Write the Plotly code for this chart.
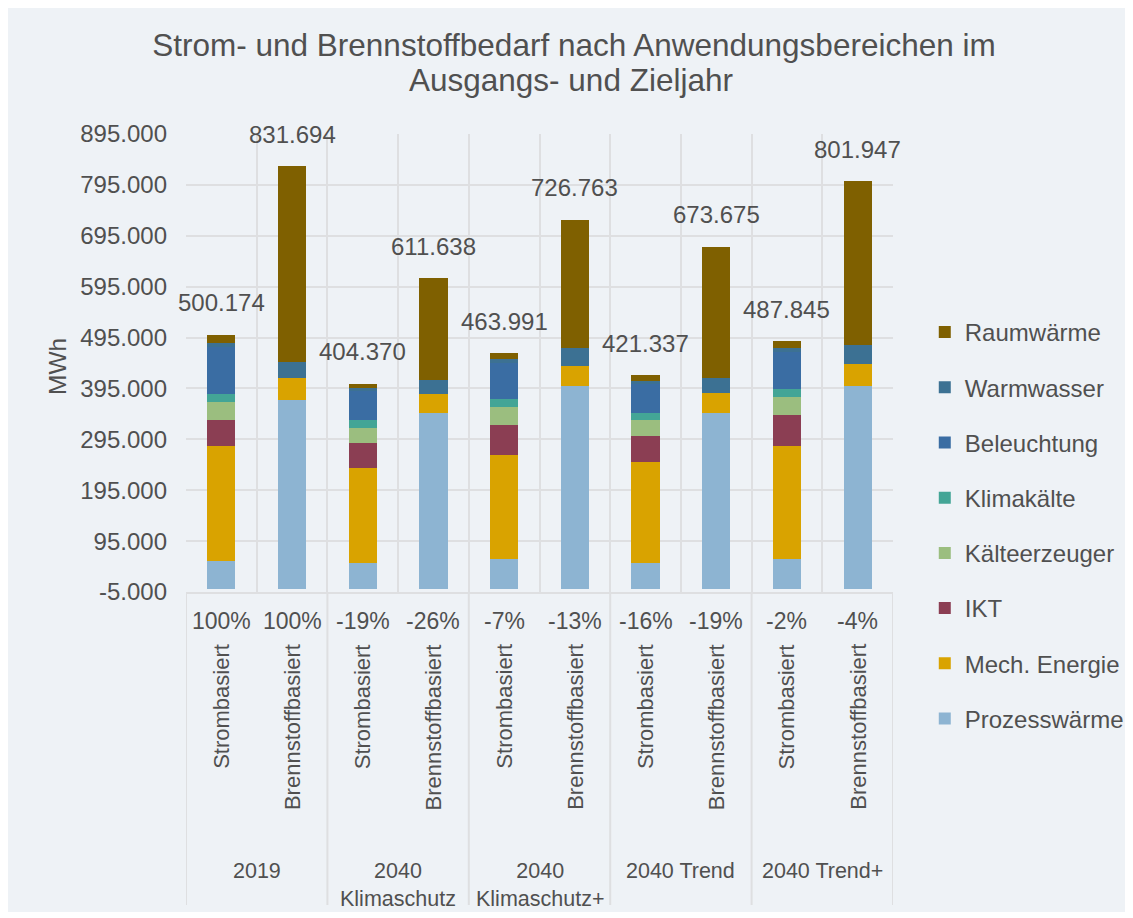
import plotly.graph_objects as go

# ---------------- data ----------------
title_lines = ["Strom- und Brennstoffbedarf nach Anwendungsbereichen im", "Ausgangs- und Zieljahr"]
scenarios = ["2019", "2040<br>Klimaschutz", "2040<br>Klimaschutz+", "2040 Trend", "2040 Trend+"]
types = ["Strombasiert", "Brennstoffbasiert"]
bar_ids = [f"{s}|{t}" for s in scenarios for t in types]

pct_labels = ["100%", "100%", "-19%", "-26%", "-7%", "-13%", "-16%", "-19%", "-2%", "-4%"]
totals = [500174, 831694, 404370, 611638, 463991, 726763, 421337, 673675, 487845, 801947]
total_labels = ["500.174", "831.694", "404.370", "611.638", "463.991",
                "726.763", "421.337", "673.675", "487.845", "801.947"]

prozesswaerme = [55200, 371400, 51300, 347400, 59100, 399600, 51300, 347400, 59100, 399600]
mech_energie = [227600, 43900, 186500, 35800, 204700, 39700, 198200, 37700, 223100, 43100]
ikt = [50200, 0, 50300, 0, 60100, 0, 51500, 0, 59900, 0]
kaelteerzeuger = [35900, 0, 29900, 0, 35200, 0, 31300, 0, 36600, 0]
klimakaelte = [15600, 0, 14300, 0, 14300, 0, 14500, 0, 15000, 0]
beleuchtung = [92600, 0, 57500, 0, 71200, 0, 56700, 0, 73000, 0]
warmwasser = [6600, 31900, 6500, 28100, 8400, 34700, 5900, 31300, 7300, 38300]
raumwaerme = [16474, 384494, 8070, 200338, 10991, 252763, 11937, 257275, 13845, 320947]

series = [
    ("Prozesswärme", prozesswaerme, "#8DB4D2"),
    ("Mech. Energie", mech_energie, "#D9A300"),
    ("IKT", ikt, "#8B3E53"),
    ("Kälteerzeuger", kaelteerzeuger, "#9BBE7F"),
    ("Klimakälte", klimakaelte, "#43A596"),
    ("Beleuchtung", beleuchtung, "#3A6DA3"),
    ("Warmwasser", warmwasser, "#3C7193"),
    ("Raumwärme", raumwaerme, "#7F6000"),
]

y_tick_vals = [-5000, 95000, 195000, 295000, 395000, 495000, 595000, 695000, 795000, 895000]
y_tick_text = ["-5.000", "95.000", "195.000", "295.000", "395.000",
               "495.000", "595.000", "695.000", "795.000", "895.000"]

# ---------------- style ----------------
FONT = "Liberation Sans, Arial, sans-serif"
TXT = "#505050"
BG = "#EEF2F6"
GRID = "#DEDFE1"
W, H = 1133, 918
OFF = 8  # page body margin offset
PW, PH = 712, 458
ML = 186 - OFF
MT = 134 - OFF
MR = W - ML - PW
MB = H - MT - PH


def py(ref_px):  # reference-screenshot pixel y -> paper y
    return (MT + PH - (ref_px - OFF)) / PH


def pxx(ref_px):  # reference-screenshot pixel x -> paper x
    return ((ref_px - OFF) - ML) / PW


fig = go.Figure()
n = len(series)
for k, (name, vals, col) in enumerate(series):
    fig.add_trace(go.Bar(
        x=bar_ids, y=vals, name=name, legendgroup=name, legendrank=n - k,
        marker=dict(color=col, line=dict(width=0)),
        hoverinfo="name+y",
    ))

annotations = []
# second title line
annotations.append(dict(x=pxx(574), y=py(80), xref="paper", yref="paper",
                        text=title_lines[1], showarrow=False,
                        xanchor="center", yanchor="middle",
                        font=dict(size=31.5, color=TXT, family=FONT)))
# totals above bars
for bid, tot, lab in zip(bar_ids, totals, total_labels):
    annotations.append(dict(x=bid, y=tot, xref="x", yref="y", text=lab,
                            showarrow=False, yanchor="middle", yshift=32,
                            font=dict(size=24, color=TXT, family=FONT)))
# percentage row
for bid, p in zip(bar_ids, pct_labels):
    annotations.append(dict(x=bid, y=py(621), xref="x", yref="paper", text=p,
                            showarrow=False, yanchor="middle",
                            font=dict(size=23, color=TXT, family=FONT)))
# type row (rotated)
for i, bid in enumerate(bar_ids):
    annotations.append(dict(x=bid, y=py(642), xref="x", yref="paper",
                            text=types[i % 2], textangle=-90,
                            showarrow=False, yanchor="top",
                            font=dict(size=22, color=TXT, family=FONT)))
# scenario row
for i, s in enumerate(scenarios):
    annotations.append(dict(x=2 * i + 0.5, y=py(857), xref="x", yref="paper",
                            text=s, showarrow=False, yanchor="top",
                            font=dict(size=21.5, color=TXT, family=FONT)))
# y-axis title
annotations.append(dict(x=pxx(56), y=py(366), xref="paper", yref="paper",
                        text="MWh", textangle=-90, showarrow=False,
                        xanchor="center", yanchor="middle",
                        font=dict(size=24.5, color=TXT, family=FONT)))

shapes = [
    dict(type="rect", xref="paper", yref="paper", layer="below",
         x0=pxx(6), x1=pxx(1133 + OFF), y0=py(912), y1=py(6),
         fillcolor=BG, line=dict(width=0)),
]
for i in range(len(scenarios) + 1):
    shapes.append(dict(type="line", xref="x", yref="paper",
                       x0=2 * i - 0.5, x1=2 * i - 0.5, y0=0, y1=py(905),
                       line=dict(color=GRID, width=2)))

fig.update_layout(
    width=W, height=H,
    margin=dict(l=ML, r=MR, t=MT, b=MB),
    paper_bgcolor="white", plot_bgcolor="rgba(0,0,0,0)",
    barmode="stack", bargap=0.6,
    font=dict(family=FONT, color=TXT, size=22),
    title=dict(text=title_lines[0],
               x=(574 - OFF) / W, xanchor="center", y=1 - (45 - OFF) / H, yanchor="middle",
               font=dict(size=31.5, color=TXT, family=FONT)),
    xaxis=dict(type="category", showticklabels=False, tickson="boundaries",
               showgrid=True, gridcolor=GRID, gridwidth=2, ticks="",
               showline=True, linecolor=GRID, linewidth=2, zeroline=False,
               range=[-0.5, len(bar_ids) - 0.5]),
    yaxis=dict(range=[-5000, 895000], tickvals=y_tick_vals, ticktext=y_tick_text,
               showgrid=True, gridcolor=GRID, gridwidth=2, zeroline=False,
               tickfont=dict(size=24, color=TXT, family=FONT), ticks="",
               ticklabelstandoff=18),
    legend=dict(x=pxx(930), xanchor="left", y=py(310), yanchor="top",
                traceorder="grouped", tracegroupgap=21,
                font=dict(size=24, color=TXT, family=FONT),
                bgcolor="rgba(0,0,0,0)"),
    annotations=annotations,
    shapes=shapes,
)

fig.write_html("out.html")
